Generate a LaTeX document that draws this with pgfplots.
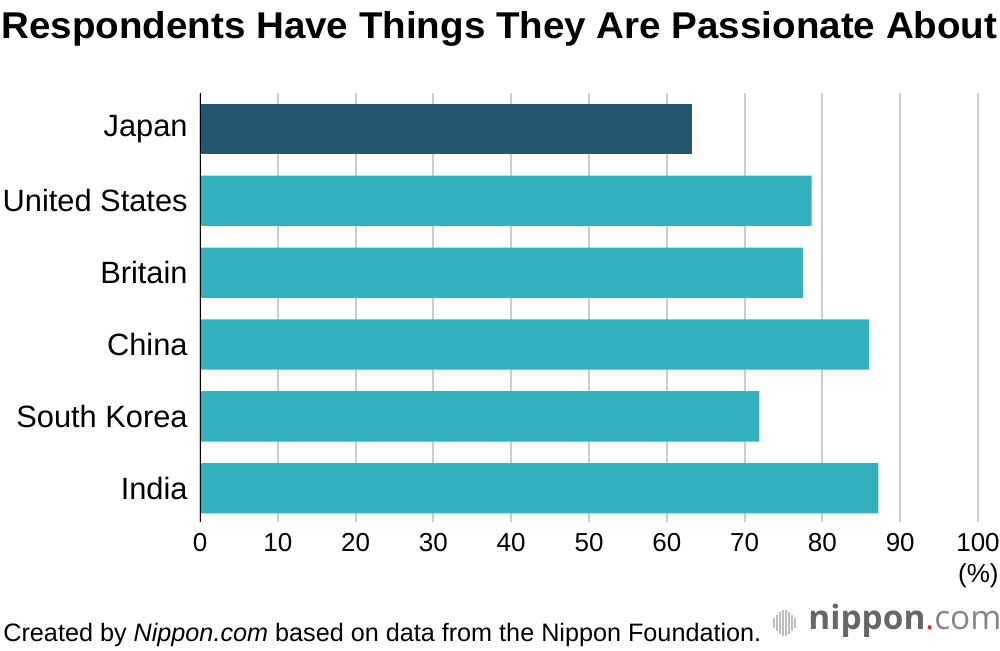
\documentclass[border=0pt]{standalone}
\usepackage{pgfplots}
\pgfplotsset{compat=1.18}
\usepackage{fontspec}
\setmainfont{Liberation Sans}
\newfontfamily\logofont{Open Sans}
\definecolor{jp}{HTML}{22556F}
\definecolor{tealc}{HTML}{33B0BE}
\definecolor{gridc}{HTML}{CCCCCC}
\definecolor{logogray}{HTML}{666666}
\definecolor{logored}{HTML}{E8272C}
\begin{document}
\begin{tikzpicture}
\useasboundingbox (0pt,0pt) rectangle (500pt,325pt);
\begin{axis}[at={(100pt,278.5pt)}, anchor=north west, scale only axis,
  width=389pt, height=214.5pt,
  xbar, bar width=0.7, bar shift=0pt,
  xmin=0, xmax=100, ymin=-0.5, ymax=5.47, y dir=reverse,
  xtick={0,10,...,100}, ytick={0,1,2,3,4,5},
  yticklabels={Japan,United States,Britain,China,South Korea,India},
  axis lines*=left, x axis line style={draw=none}, y axis line style={draw=none},
  major tick length=0pt,
  xmajorgrids, grid style={gridc, line width=1pt},
  /pgf/number format/assume math mode=true,
  xticklabel style={font=\fontsize{13}{15}\selectfont, anchor=north, inner sep=0pt, yshift=-5.5pt},
  yticklabel style={font=\fontsize{15.4}{18}\selectfont, anchor=east, inner sep=0pt, xshift=-6pt},
]
\addplot[fill=jp, draw=none] coordinates {(63.2,0)};
\addplot[fill=tealc, draw=none] coordinates {(78.6,1) (77.5,2) (86.0,3) (71.9,4) (87.2,5)};
\draw[black, line width=0.8pt] (rel axis cs:0,0) -- (rel axis cs:0,1);
\end{axis}
\begin{scope}[x=0.5pt,y=0.5pt]
\node[anchor=base west, inner sep=0pt] at (1,612) {\resizebox{498pt}{13.5pt}{\bfseries Respondents Have Things They Are Passionate About}};
\node[anchor=east, inner sep=0pt, font=\fontsize{13}{15}\selectfont] at (999,74) {(\%)};
\node[anchor=base west, inner sep=0pt, font=\fontsize{12.6}{14}\selectfont] at (3,9) {Created by \textit{Nippon.com} based on data from the Nippon Foundation.};
\foreach \xx/\hh in {774/10,777/16,780/22,783/26,786/26,789/22,792/16,795/10}
  \draw[gridc!80!gray, line width=0.9pt] (\xx,27-\hh/2) -- (\xx,27+\hh/2);
\node[anchor=base west, inner sep=0pt, font=\logofont\fontsize{16.7}{18}\selectfont] at (808,21) {\textcolor{logogray}{\bfseries nippon}\textcolor{logored}{.}\textcolor{logogray!80}{com}};
\end{scope}
\end{tikzpicture}
\end{document}
